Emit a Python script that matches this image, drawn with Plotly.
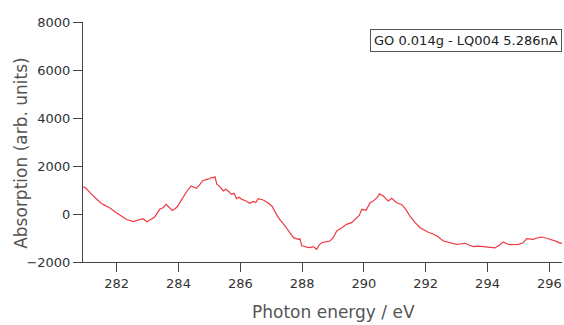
import plotly.graph_objects as go

energy = [280.92, 281.0, 281.15, 281.34, 281.45, 281.56, 281.77, 281.99, 282.15, 282.31,
          282.53, 282.7, 282.85, 282.98, 283.1, 283.23, 283.39, 283.5, 283.6, 283.7,
          283.8, 283.9, 283.98, 284.1, 284.2, 284.3, 284.41, 284.58, 284.7, 284.77,
          284.91, 285.0, 285.08, 285.13, 285.18, 285.24, 285.33, 285.45, 285.52, 285.61,
          285.72, 285.8, 285.88, 285.96, 286.05, 286.15, 286.31, 286.42, 286.5, 286.58,
          286.74, 286.88, 287.02, 287.12, 287.23, 287.45, 287.61, 287.72, 287.88, 287.93,
          287.99, 288.04, 288.15, 288.26, 288.36, 288.47, 288.55, 288.63, 288.75, 288.9,
          289.0, 289.12, 289.3, 289.44, 289.6, 289.77, 289.85, 289.93, 290.07, 290.2,
          290.28, 290.36, 290.45, 290.5, 290.56, 290.63, 290.72, 290.79, 290.9, 291.06,
          291.22, 291.35, 291.49, 291.65, 291.82, 292.05, 292.25, 292.4, 292.57, 292.8,
          293.0, 293.15, 293.27, 293.4, 293.54, 293.7, 293.86, 294.05, 294.24, 294.38,
          294.51, 294.62, 294.73, 295.0, 295.15, 295.27, 295.48, 295.6, 295.75, 295.95,
          296.13, 296.25, 296.35, 296.41]
absorption = [1130, 1080, 870, 610, 500, 400, 260, 55, -100, -220,
              -320, -260, -195, -320, -230, -125, 195, 260, 400, 280,
              150, 230, 333, 600, 820, 1000, 1170, 1070, 1240, 1375,
              1445, 1470, 1530, 1510, 1555, 1240, 1150, 960, 1030, 960,
              820, 860, 640, 700, 610, 560, 445, 520, 480, 640,
              585, 480, 333, 100, -150, -500, -780, -985, -1055, -1030,
              -1333, -1333, -1380, -1400, -1360, -1470, -1300, -1195, -1160, -1125,
              -1000, -710, -560, -430, -360, -150, -60, 195, 150, 470,
              520, 610, 720, 845, 800, 750, 620, 540, 650, 470,
              400, 200, -85, -350, -570, -740, -845, -950, -1125, -1200,
              -1265, -1240, -1220, -1290, -1360, -1340, -1360, -1390, -1415, -1300,
              -1165, -1240, -1280, -1265, -1200, -1030, -1055, -1000, -960, -1020,
              -1085, -1150, -1220, -1200]

x_ticks = [282, 284, 286, 288, 290, 292, 294, 296]
y_ticks = [-2000, 0, 2000, 4000, 6000, 8000]
legend_text = "GO 0.014g - LQ004 5.286nA"

fig = go.Figure()
fig.add_trace(go.Scatter(x=energy, y=absorption, mode="lines",
                         line=dict(color="#ee3a40", width=1.2), showlegend=False))

font_family = "DejaVu Sans"
fig.update_layout(
    width=564, height=325,
    margin=dict(l=83, r=2, t=22, b=63),
    plot_bgcolor="white", paper_bgcolor="white",
    font=dict(family=font_family, size=13, color="#333333"),
    xaxis=dict(range=[280.91, 296.41], tickvals=x_ticks, showgrid=False, zeroline=False,
               showline=True, linecolor="#444444", linewidth=1,
               ticks="outside", ticklen=9, tickcolor="#444444",
               tickfont=dict(size=13, color="#333333")),
    yaxis=dict(range=[-2000, 8000], tickvals=y_ticks, showgrid=False, zeroline=False,
               showline=True, linecolor="#444444", linewidth=1,
               ticks="outside", ticklen=9, tickcolor="#444444",
               tickfont=dict(size=13, color="#333333")),
    annotations=[
        dict(text="Photon energy / eV", xref="paper", yref="paper",
             x=0.524, y=0, yshift=-50, xanchor="center", yanchor="middle",
             showarrow=False, font=dict(size=17, color="#555555", family=font_family)),
        dict(text="Absorption (arb. units)", xref="paper", yref="paper",
             x=0, xshift=-62, y=0.455, xanchor="center", yanchor="middle", textangle=-90,
             showarrow=False, font=dict(size=17, color="#555555", family=font_family)),
        dict(text=legend_text, xref="paper", yref="paper",
             x=1, xshift=0, y=1, yshift=-7, xanchor="right", yanchor="top",
             showarrow=False, bgcolor="white", bordercolor="#555555", borderwidth=1,
             borderpad=3, font=dict(size=13, color="#222222", family=font_family)),
    ],
)

fig.write_html("out.html")
